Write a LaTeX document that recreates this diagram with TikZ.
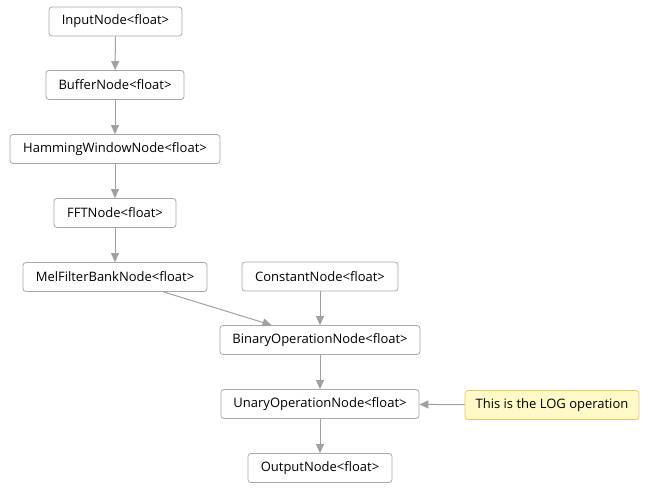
\documentclass[tikz,border=0pt]{standalone}
\usepackage{fontspec}
\setmainfont{Open Sans}
\usetikzlibrary{arrows.meta}
\definecolor{edgegray}{HTML}{A0A0A0}
\definecolor{boxgray}{HTML}{A8A8A8}
\definecolor{notefill}{HTML}{FFF9C8}
\definecolor{noteborder}{HTML}{E6C66E}
\begin{document}
\begin{tikzpicture}[x=1pt,y=-1pt,
  gnode/.style={draw=boxgray, line width=0.8pt, rounded corners=3pt, fill=white,
    inner sep=0pt, minimum height=29pt, font=\fontsize{13pt}{15pt}\selectfont, text=black},
  notebox/.style={gnode, draw=noteborder, fill=notefill},
  conn/.style={draw=edgegray, line width=1pt, -{Triangle[length=9pt,width=8pt]}}]
\useasboundingbox (0,0) rectangle (649,492);
\node[gnode, minimum width=133pt] (in) at (115.5,21.5) {InputNode<float>};
\node[gnode, minimum width=138pt] (buf) at (115,85) {BufferNode<float>};
\node[gnode, minimum width=210pt] (ham) at (115,149) {HammingWindowNode<float>};
\node[gnode, minimum width=122pt] (fft) at (115,213) {FFTNode<float>};
\node[gnode, minimum width=184pt] (mel) at (115,277) {MelFilterBankNode<float>};
\node[gnode, minimum width=156pt] (const) at (320,276.5) {ConstantNode<float>};
\node[gnode, minimum width=200pt] (bin) at (320,340) {BinaryOperationNode<float>};
\node[gnode, minimum width=198pt] (un) at (320,404) {UnaryOperationNode<float>};
\node[gnode, minimum width=144pt] (out) at (320,468) {OutputNode<float>};
\node[notebox, minimum width=174pt] (note) at (552,405) {This is the LOG operation};
\draw[conn] (in) -- (buf);
\draw[conn] (buf) -- (ham);
\draw[conn] (ham) -- (fft);
\draw[conn] (fft) -- (mel);
\draw[conn] (mel) -- (bin);
\draw[conn] (const) -- (bin);
\draw[conn] (bin) -- (un);
\draw[conn] (un) -- (out);
\draw[conn] (note) -- (un);
\end{tikzpicture}
\end{document}
